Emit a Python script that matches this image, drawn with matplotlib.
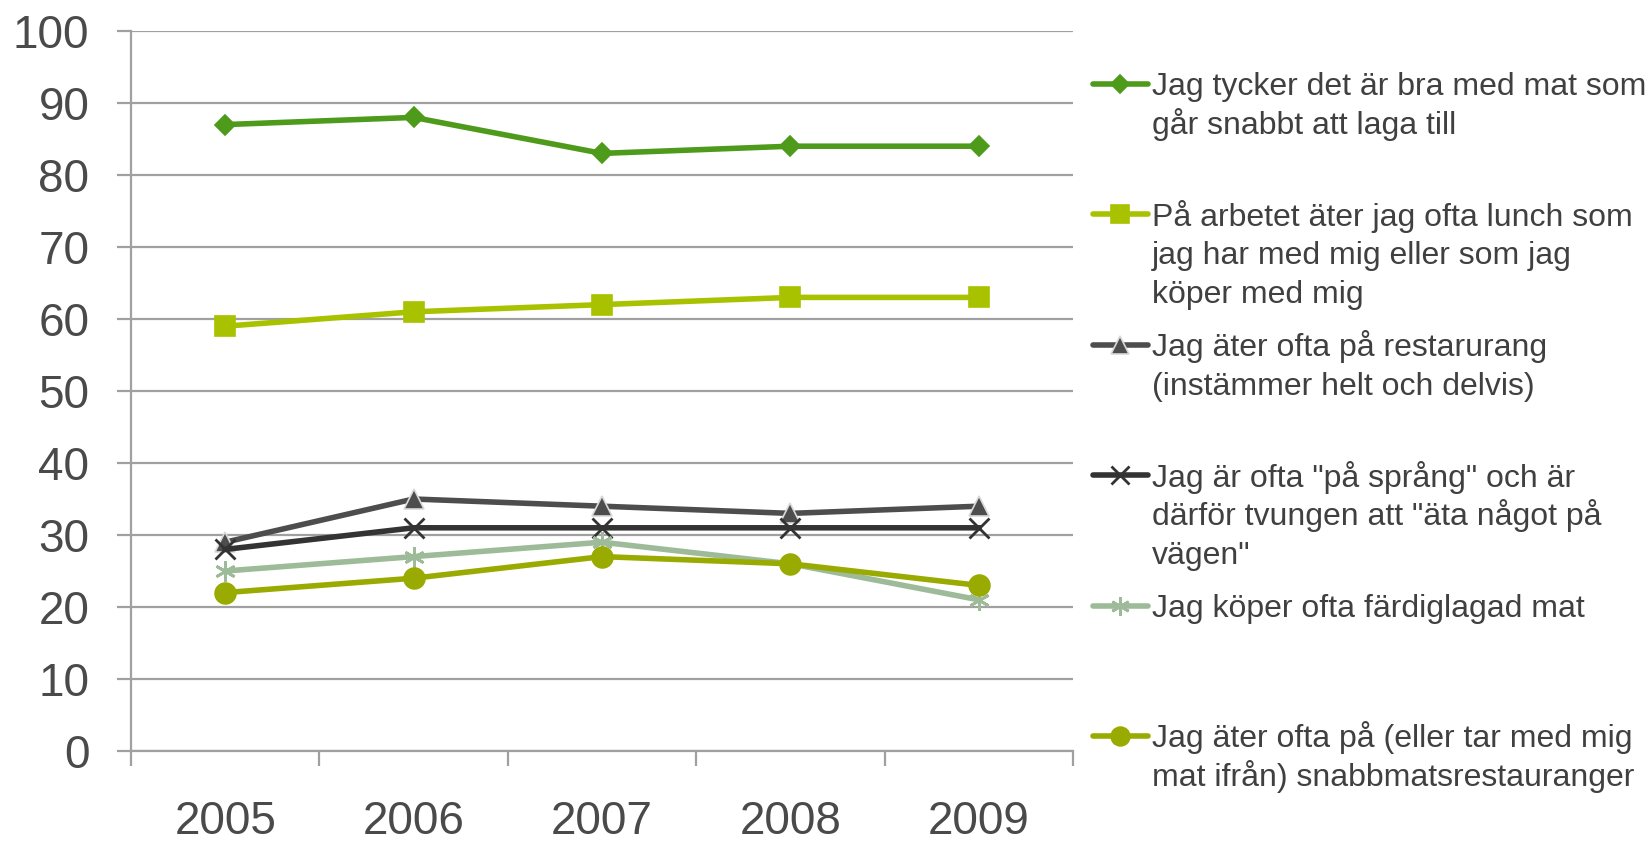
import matplotlib
matplotlib.use('Agg')
from matplotlib import pyplot as plt
from matplotlib.lines import Line2D

plt.rcParams['font.family'] = ['Liberation Sans', 'DejaVu Sans']

years = ['2005', '2006', '2007', '2008', '2009']

snabb_mat = [87, 88, 83, 84, 84]
lunch_arbete = [59, 61, 62, 63, 63]
restaurang = [29, 35, 34, 33, 34]
pa_sprang = [28, 31, 31, 31, 31]
fardiglagad = [25, 27, 29, 26, 21]
snabbmat = [22, 24, 27, 26, 23]

labels = [
    'Jag tycker det är bra med mat som\ngår snabbt att laga till',
    'På arbetet äter jag ofta lunch som\njag har med mig eller som jag\nköper med mig',
    'Jag äter ofta på restarurang\n(instämmer helt och delvis)',
    'Jag är ofta "på språng" och är\ndärför tvungen att "äta något på\nvägen"',
    'Jag köper ofta färdiglagad mat',
    'Jag äter ofta på (eller tar med mig\nmat ifrån) snabbmatsrestauranger',
]

series = [snabb_mat, lunch_arbete, restaurang, pa_sprang, fardiglagad, snabbmat]
# colour, marker, marker size, marker edge colour
styles = [
    ('#4E9A1A', 'D', 10, '#4E9A1A'),
    ('#A9C200', 's', 14, '#A9C200'),
    ('#4D4D4D', '^', 14, '#D9D9D9'),
    ('#333333', 'x', 14, '#333333'),
    ('#9DBB98', (6, 2, 0), 15, '#9DBB98'),
    ('#99AA00', 'o', 15, '#99AA00'),
]


def mew(m):
    return 2 if m in ('x', (6, 2, 0)) else 1.2


fig = plt.figure(figsize=(16.49, 8.41), dpi=100)
ax = fig.add_axes([131 / 1649, 1 - 751 / 841, (1073 - 131) / 1649, (751 - 31) / 841])

x = range(len(years))
for vals, (c, m, ms, mec) in zip(series, styles):
    ax.plot(x, vals, color=c, linewidth=4.0, marker=m, markersize=ms,
            markerfacecolor=c, markeredgecolor=mec, markeredgewidth=mew(m), zorder=3)

ax.set_xlim(-0.5, 4.5)
ax.set_ylim(0, 100)
ax.set_yticks(range(0, 101, 10))
ax.yaxis.grid(True, color='#A0A0A0', linewidth=1.6)
ax.set_axisbelow(True)

ax.set_xticks(list(x))
ax.set_xticklabels(years)
ax.set_xticks([i - 0.5 for i in range(len(years) + 1)], minor=True)
ax.tick_params(axis='x', which='major', length=0, pad=35, labelsize=33, labelcolor='#4A4A4A')
ax.tick_params(axis='x', which='minor', length=11, width=1.6, color='#A0A0A0')
ax.tick_params(axis='y', length=10, width=1.6, color='#A0A0A0', labelsize=33,
               labelcolor='#4A4A4A', pad=20)

for s in ['top', 'right']:
    ax.spines[s].set_visible(False)
for s in ['left', 'bottom']:
    ax.spines[s].set_color('#A0A0A0')
    ax.spines[s].set_linewidth(1.6)

# legend drawn by hand, one slot per entry, one text per line
W, H = 1649.0, 841.0
y0 = 84
step = 130.4
pitch = 38.5
for i, (lab, (c, m, ms, mec)) in enumerate(zip(labels, styles)):
    ly = y0 + i * step
    yy = 1 - ly / H
    fig.add_artist(Line2D([1093 / W, 1148 / W], [yy, yy], color=c, linewidth=4.0,
                          solid_capstyle='round'))
    fig.add_artist(Line2D([1120 / W], [yy], color=c, marker=m, markersize=ms * 0.9,
                          markerfacecolor=c, markeredgecolor=mec, markeredgewidth=mew(m)))
    for j, line in enumerate(lab.split('\n')):
        fig.text(1152 / W, 1 - (ly + 11.4 + j * pitch) / H, line, fontsize=23,
                 color='#404040', va='baseline', ha='left')

fig.savefig('out.png', dpi=100)
